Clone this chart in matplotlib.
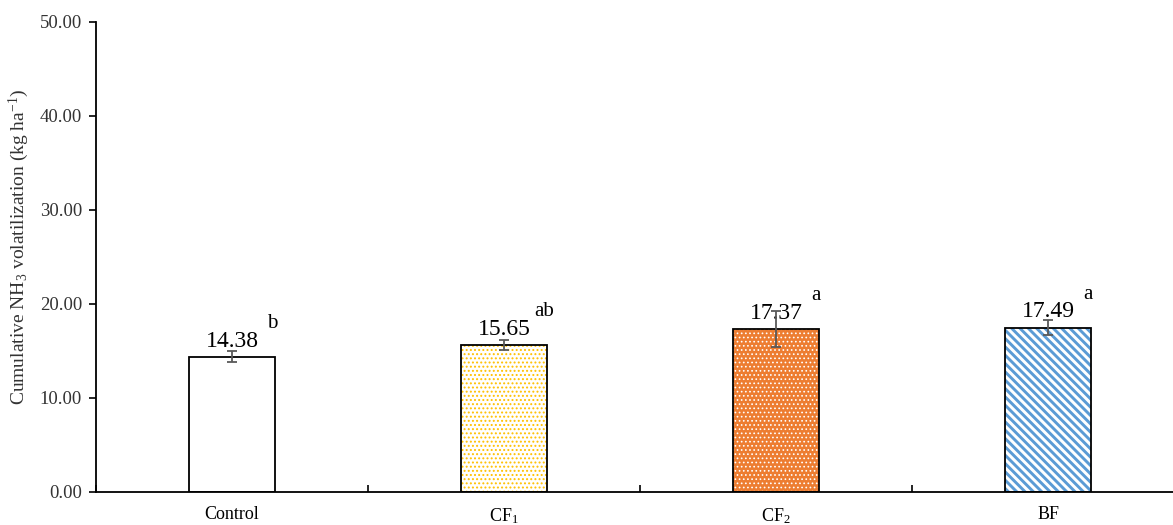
import numpy as np
import matplotlib.pyplot as plt

plt.rcParams['font.family'] = ['Liberation Serif', 'DejaVu Serif']
plt.rcParams['mathtext.fontset'] = 'custom'
plt.rcParams['mathtext.rm'] = 'Liberation Serif'
plt.rcParams['mathtext.it'] = 'Liberation Serif:italic'

# Treatments, means, standard errors and significance letters
treatments = ['Control', 'CF$_1$', 'CF$_2$', 'BF']
means = [14.38, 15.65, 17.37, 17.49]
errors = [0.60, 0.57, 1.90, 0.80]
letters = ['b', 'ab', 'a', 'a']

fig = plt.figure(figsize=(11.73, 5.25), dpi=100)
ax = fig.add_axes([0.0818, 0.0629, 0.9276, 0.8952])

x = np.arange(len(treatments))
width = 0.316

# (face colour, hatch, hatch colour, hatch linewidth)
styles = [
    ('white', None, None, 1.0),
    ('white', '....', '#FFC000', 0.9),
    ('#ED7D31', '....', 'white', 0.7),
    ('white', '\\' * 4, '#5B9BD5', 2.1),
]

for i, (fc, hatch, hc, hlw) in enumerate(styles):
    with plt.rc_context({'hatch.linewidth': hlw}):
        ax.bar(x[i], means[i], width, color=fc, hatch=hatch,
               edgecolor=hc if hc else fc, linewidth=0, zorder=2)
    ax.bar(x[i], means[i], width, fill=False, edgecolor='black',
           linewidth=1.3, zorder=3)

ax.errorbar(x, means, yerr=errors, fmt='none', ecolor='#595959',
            elinewidth=1.3, capsize=3.5, capthick=1.3, zorder=5)

for i in range(len(x)):
    ax.text(x[i], means[i] + 0.55, f'{means[i]:.2f}', ha='center', va='bottom',
            fontsize=17, zorder=4)
    ax.text(x[i] + width / 2 - 0.01, means[i] + 3.5, letters[i], ha='center',
            va='center', fontsize=15, zorder=4)

ax.set_xlim(-0.5, 3.5)
ax.set_ylim(0, 50)
ax.set_yticks(np.arange(0, 51, 10))
ax.set_yticklabels([f'{v:.2f}' for v in np.arange(0, 51, 10)])
ax.set_xticks(x)
ax.set_xticklabels(treatments)
ax.set_xticks(np.arange(-0.5, 4.0, 1.0), minor=True)
ax.tick_params(axis='x', which='major', length=0, pad=10, labelsize=13)
ax.tick_params(axis='x', which='minor', direction='in', length=5, width=1.2)
ax.tick_params(axis='y', direction='out', length=5, width=1.2, pad=5,
               labelsize=13.5, colors='black')
ax.tick_params(axis='y', labelcolor='#333333')
ax.set_ylabel('Cumulative NH$_3$ volatilization (kg ha$^{-1}$)', fontsize=14,
              color='#333333')
ax.yaxis.set_label_coords(-0.0594, 0.522)

for side in ['top', 'right']:
    ax.spines[side].set_visible(False)
for side in ['left', 'bottom']:
    ax.spines[side].set_linewidth(1.3)

fig.savefig('out.png', dpi=100)
